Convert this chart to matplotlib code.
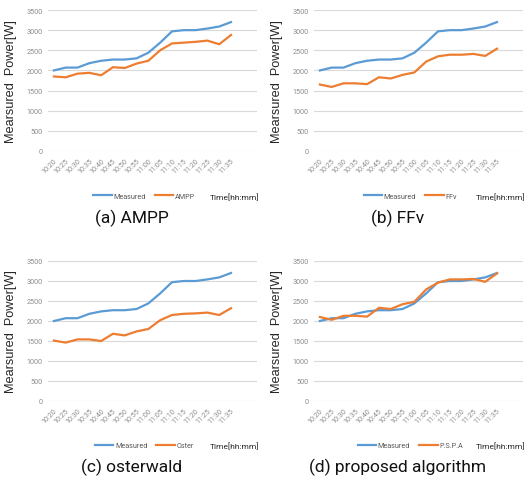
import matplotlib.pyplot as plt

times = ['10:20', '10:25', '10:30', '10:35', '10:40', '10:45', '10:50', '10:55',
         '11:00', '11:05', '11:10', '11:15', '11:20', '11:25', '11:30', '11:35']
measured = [2000, 2070, 2070, 2180, 2240, 2270, 2270, 2300,
            2440, 2690, 2970, 3000, 3000, 3040, 3090, 3200]
ampp = [1850, 1830, 1920, 1940, 1880, 2080, 2060, 2170,
        2240, 2500, 2670, 2690, 2710, 2740, 2650, 2880]
ffv = [1650, 1590, 1680, 1680, 1660, 1830, 1800, 1890,
       1950, 2220, 2350, 2390, 2390, 2410, 2360, 2540]
oster = [1510, 1460, 1540, 1540, 1500, 1680, 1640, 1740,
         1800, 2020, 2150, 2180, 2190, 2210, 2150, 2320]
pspa = [2100, 2030, 2130, 2130, 2110, 2330, 2300, 2420,
        2480, 2790, 2960, 3040, 3040, 3050, 2980, 3190]

panels = [
    ('AMPP', ampp, '(a) AMPP'),
    ('FFv', ffv, '(b) FFv'),
    ('Oster', oster, '(c) osterwald'),
    ('P.S.P.A', pspa, '(d) proposed algorithm'),
]

narrow = ['Roboto', 'DejaVu Sans']
BLUE = '#5B9BD5'
ORANGE = '#ED7D31'

fig = plt.figure(figsize=(5.32, 4.81), dpi=100)
rects = [
    [48 / 532, 1 - 152 / 481, 209 / 532, 141 / 481],
    [314 / 532, 1 - 152 / 481, 209 / 532, 141 / 481],
    [48 / 532, 1 - 402 / 481, 209 / 532, 140 / 481],
    [314 / 532, 1 - 402 / 481, 209 / 532, 140 / 481],
]

for rect, (name, vals, caption) in zip(rects, panels):
    ax = fig.add_axes(rect)
    x = range(len(times))
    ax.plot(x, measured, color=BLUE, lw=1.6, label='Measured')
    ax.plot(x, vals, color=ORANGE, lw=1.6, label=name)
    ax.set_ylim(0, 3500)
    ax.set_yticks(range(0, 3501, 500))
    ax.set_xlim(-0.5, 17.2)
    ax.set_xticks(list(x))
    ax.set_xticklabels(times, rotation=45, ha='right', rotation_mode='anchor')
    ax.grid(axis='y', color='#D9D9D9', lw=0.8)
    ax.set_axisbelow(True)
    for s in ax.spines.values():
        s.set_visible(False)
    ax.tick_params(length=0, labelsize=5.2, labelcolor='#8C8C8C', pad=4)
    for lab in ax.get_xticklabels() + ax.get_yticklabels():
        lab.set_family(narrow)
    ax.set_ylabel('Mearsured  Power[W]', fontsize=9.2, color='#262626',
                  family=['Liberation Sans', 'DejaVu Sans'])
    ax.yaxis.set_label_coords(-0.15, 0.5)
    leg = ax.legend(loc='center', bbox_to_anchor=(0.46, -0.32), ncol=2, frameon=False,
                    prop={'family': narrow, 'size': 5.2}, handlelength=2.6,
                    columnspacing=1.2, handletextpad=0.2)
    for t in leg.get_texts():
        t.set_color('#595959')
    ax.text(0.895, -0.32, 'Time[hh:mm]', transform=ax.transAxes, ha='center',
            va='center', fontsize=6, family=narrow, color='#262626')
    ax.text(0.40, -0.47, caption, transform=ax.transAxes, ha='center', va='center',
            fontsize=12.5, family=narrow, color='#111111')

fig.savefig('out.png', dpi=100)
